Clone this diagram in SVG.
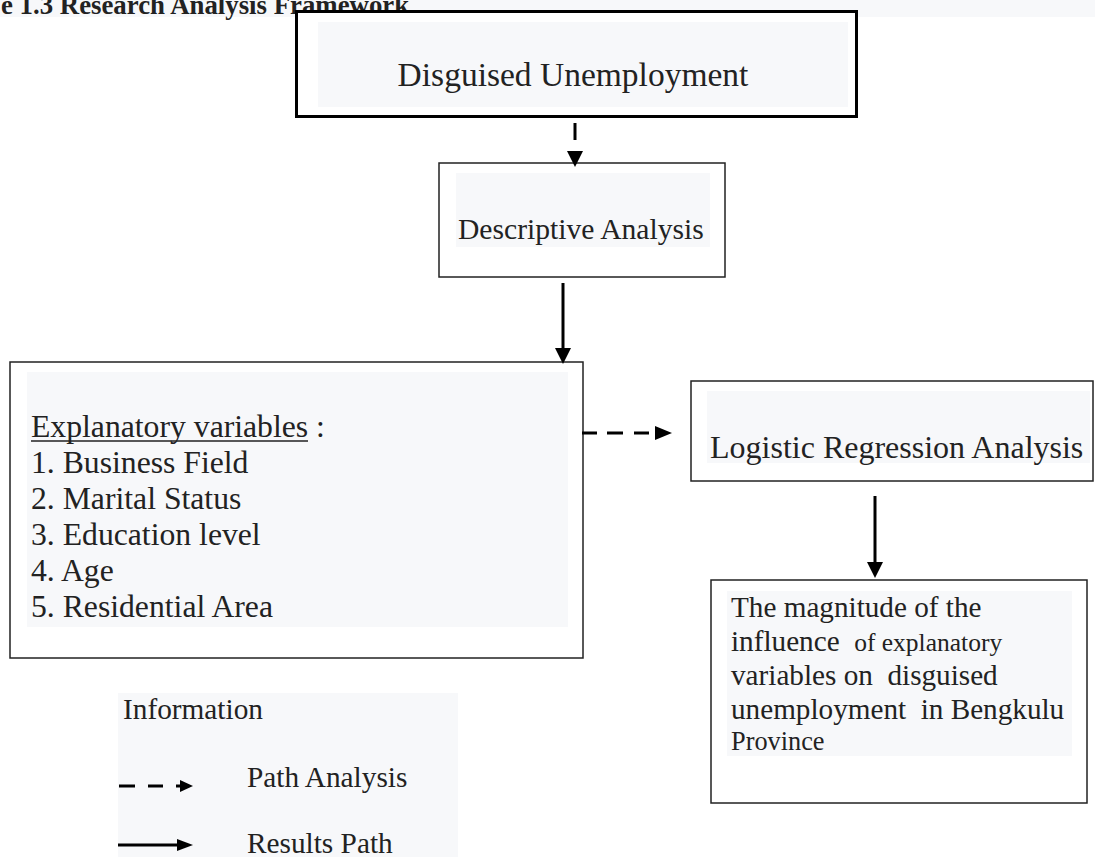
<svg xmlns="http://www.w3.org/2000/svg" width="1095" height="857" viewBox="0 0 1095 857">
<style>
.t{font-family:"Liberation Serif","Times New Roman",serif;fill:#222;white-space:pre;}
.bg{fill:#f7f8fa;}
.box{fill:#fff;stroke:#222;stroke-width:1.5;}
.ln{stroke:#000;stroke-width:3;fill:none;}
.hd{fill:#000;}
</style>
<rect width="1095" height="857" fill="#fff"/>
<g id="title">
<rect class="bg" x="0" y="0" width="1095" height="17"/>
<text class="t" x="1" y="13.5" font-size="26.8" font-weight="bold">e 1.3 Research Analysis Framework</text>
</g>
<g id="disguised">
<rect x="296.5" y="11.5" width="560" height="105" fill="#fff" stroke="#000" stroke-width="3"/>
<rect class="bg" x="318" y="22" width="530" height="85"/>
<text class="t" x="573" y="86" font-size="33.5" text-anchor="middle">Disguised Unemployment</text>
</g>
<g id="descriptive">
<rect class="box" x="439" y="163" width="286" height="114"/>
<rect class="bg" x="456" y="173" width="254" height="74"/>
<text class="t" x="458" y="239" font-size="29.6">Descriptive Analysis</text>
</g>
<g id="explanatory">
<rect class="box" x="10" y="362" width="573" height="296"/>
<rect class="bg" x="27" y="372" width="541" height="255"/>
<text class="t" font-size="31.7">
<tspan x="31" y="437">Explanatory variables :</tspan>
<tspan x="31" y="473">1. Business Field</tspan>
<tspan x="31" y="509">2. Marital Status</tspan>
<tspan x="31" y="545">3. Education level</tspan>
<tspan x="31" y="581">4. Age</tspan>
<tspan x="31" y="617">5. Residential Area</tspan>
</text>
<line x1="31" y1="441" x2="308" y2="441" stroke="#222" stroke-width="1.5"/>
</g>
<g id="logistic">
<rect class="box" x="691" y="381" width="402" height="100"/>
<rect class="bg" x="707" y="391" width="383" height="72"/>
<text class="t" x="710" y="458" font-size="32">Logistic Regression Analysis</text>
</g>
<g id="result">
<rect class="box" x="711" y="580" width="376" height="223"/>
<rect class="bg" x="727" y="591" width="345" height="165"/>
<text class="t" font-size="29.2"><tspan x="731" y="617">The magnitude of the</tspan><tspan x="731" y="651">influence  <tspan font-size="25.5">of explanatory</tspan></tspan><tspan x="731" y="685">variables on  disguised</tspan><tspan x="731" y="719">unemployment  in Bengkulu</tspan><tspan x="731" y="750" font-size="26.3">Province</tspan></text>
</g>
<g id="legend">
<rect class="bg" x="118" y="693" width="340" height="164"/>
<text class="t" x="123" y="719" font-size="29.3">Information</text>
<text class="t" x="247" y="787" font-size="29.3">Path Analysis</text>
<text class="t" x="247" y="853" font-size="29.3">Results Path</text>
<path class="ln" d="M119 786H135M148 786H163M176 786H182"/>
<polygon class="hd" points="180,780 193,786 180,792"/>
<line class="ln" x1="118" y1="845" x2="180" y2="845"/>
<polygon class="hd" points="177,839 193,845 177,851"/>
</g>
<g id="connectors">
<line class="ln" x1="575" y1="123" x2="575" y2="140"/>
<polygon class="hd" points="567,151 583,151 575,167"/>
<line class="ln" x1="563" y1="283" x2="563" y2="350"/>
<polygon class="hd" points="555,348 571,348 563,364"/>
<path class="ln" d="M582 433H597M607 433H623M634 433H649"/>
<polygon class="hd" points="655,426 672,433 655,440"/>
<line class="ln" x1="875" y1="496" x2="875" y2="564"/>
<polygon class="hd" points="867,562 883,562 875,578"/>
</g>
</svg>
